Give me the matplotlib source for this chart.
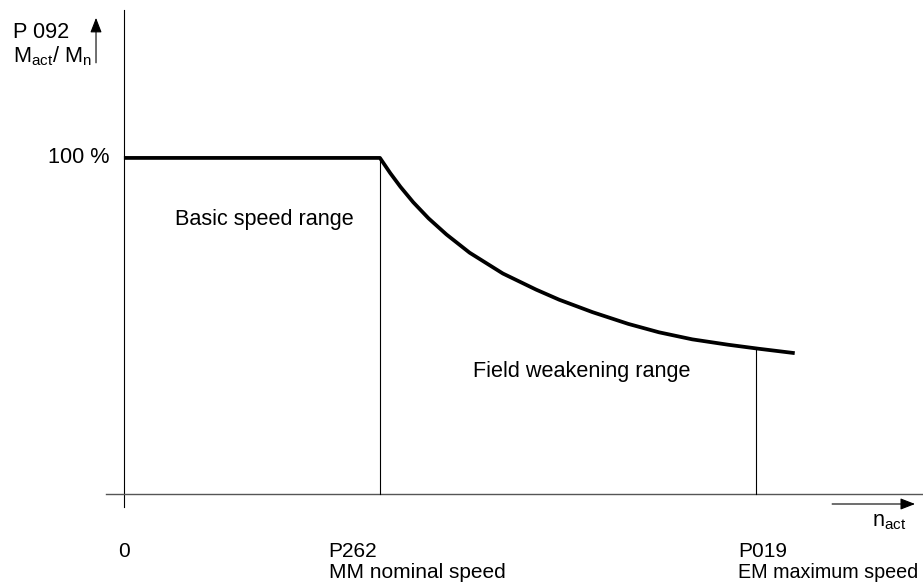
import matplotlib
matplotlib.use("Agg")
import matplotlib.pyplot as plt

plt.rcParams['font.family'] = ['Liberation Sans', 'DejaVu Sans']
plt.rcParams['mathtext.fontset'] = 'custom'
plt.rcParams['mathtext.rm'] = 'Liberation Sans'

# torque characteristic: speed relative to nominal speed, torque relative to M_n
speed = [0.0, 1.0, 1.04, 1.08, 1.13, 1.19, 1.26, 1.35, 1.48, 1.61, 1.70, 1.83,
         1.97, 2.09, 2.22, 2.36, 2.48, 2.62]
torque = [1.0, 1.0, 0.955, 0.914, 0.868, 0.820, 0.772, 0.718, 0.656, 0.608, 0.578,
          0.541, 0.506, 0.481, 0.460, 0.444, 0.432, 0.419]

nominal_speed = 1.0      # P262
max_speed = 2.47         # P019
torque_at_max = 0.433

FS = 15.6

fig = plt.figure(figsize=(9.23, 5.88), dpi=100)
ax = fig.add_axes([0, 0, 1, 1])
ax.set_xlim(-0.484, 3.121)
ax.set_ylim(-0.280, 1.470)
ax.axis('off')

# coordinate axes
ax.plot([0, 0], [-0.039, 1.440], color='black', lw=0.8)
ax.plot([-0.070, 3.121], [0, 0], color='#555555', lw=1.0)

# characteristic curve
ax.plot(speed, torque, color='black', lw=2.7, solid_capstyle='butt', solid_joinstyle='round')

# drop lines at nominal and maximum speed
ax.plot([nominal_speed, nominal_speed], [0, 1.0], color='black', lw=0.8)
ax.plot([max_speed, max_speed], [0, torque_at_max], color='black', lw=0.8)

# axis direction arrows
arrow = dict(arrowstyle='-|>,head_length=0.9,head_width=0.35', color='black', lw=0.8,
             shrinkA=0, shrinkB=0)
ax.annotate('', xy=(-0.109, 1.417), xytext=(-0.109, 1.283), arrowprops=arrow)
ax.annotate('', xy=(3.090, -0.030), xytext=(2.766, -0.030), arrowprops=arrow)

# labels
ax.text(-0.055, 1.0, '100 %', ha='right', va='center', fontsize=FS)
ax.text(-0.434, 1.357, 'P 092', ha='left', va='baseline', fontsize=FS)
ax.text(-0.434, 1.283, r'M$_\mathregular{act}$/ M$_\mathregular{n}$', ha='left', va='baseline', fontsize=FS)
ax.text(2.922, -0.098, r'n$_\mathregular{act}$', ha='left', va='baseline', fontsize=FS)

ax.text(0, -0.1875, '0', ha='center', va='baseline', fontsize=15)
ax.text(0.80, -0.1875, 'P262', ha='left', va='baseline', fontsize=15)
ax.text(0.80, -0.25, 'MM nominal speed', ha='left', va='baseline', fontsize=15)
ax.text(2.40, -0.1875, 'P019', ha='left', va='baseline', fontsize=15)
ax.text(2.40, -0.25, 'EM maximum speed', ha='left', va='baseline', fontsize=14.2)

ax.text(0.199, 0.80, 'Basic speed range', ha='left', va='baseline', fontsize=FS)
ax.text(1.363, 0.348, 'Field weakening range', ha='left', va='baseline', fontsize=FS)

fig.savefig('out.png', dpi=100)
